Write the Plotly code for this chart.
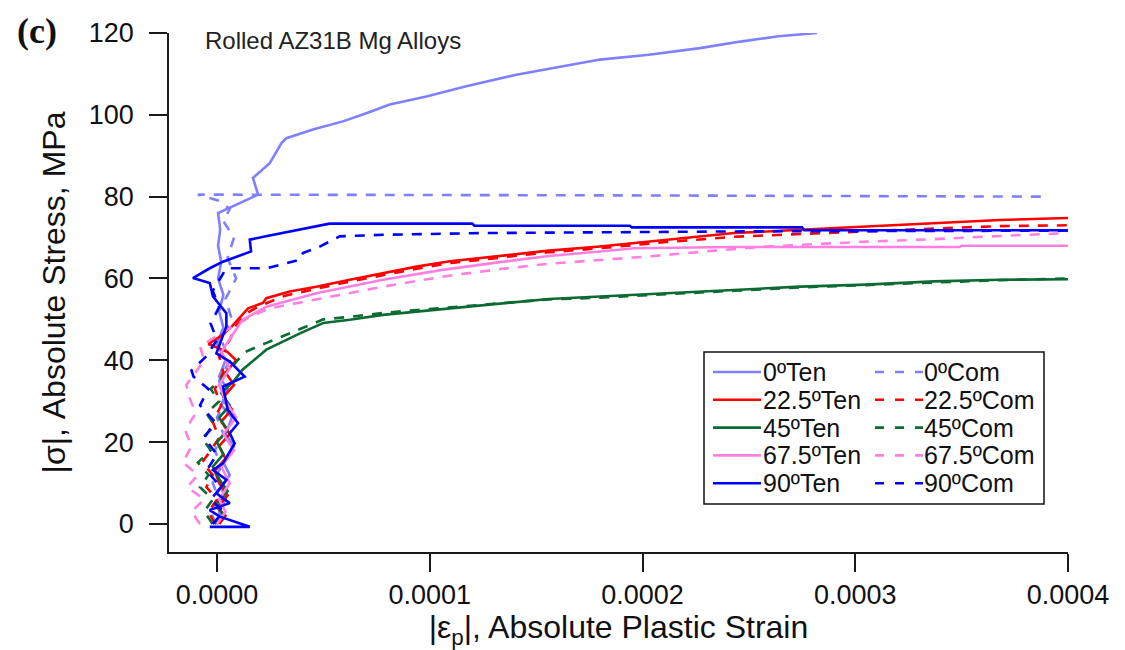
import plotly.graph_objects as go

# ---------------- data (strain, |stress| MPa) ----------------
ten0_x = [0.0, 2e-6, 1e-6, 4e-6, 2e-6, 6e-6, 3e-6, 8e-6, 4e-6, 7e-6, 2e-6, 5e-6, 1e-6, 4e-6, 0.0, 3e-6, 1e-6, 3e-6,
          0.5e-6, 2e-6, 0.5e-6, 1.5e-6, 0.5e-6, 9e-6, 1.93e-5, 1.69e-5, 2.48e-5, 3.03e-5, 3.26e-5, 4.51e-5, 5.92e-5,
          7.02e-5, 8.12e-5, 9.84e-5, 1.172e-4, 1.407e-4, 1.611e-4, 1.80e-4, 2.03e-4, 2.27e-4, 2.46e-4, 2.64e-4, 2.82e-4]
ten0_y = [0, 1, 3, 6, 9, 12, 15, 19, 22, 26, 29, 33, 36, 40, 44, 48, 52, 56, 60, 64, 68, 72, 76, 78, 80.5, 84.6, 88.2,
          93.1, 94.3, 96.4, 98.4, 100.4, 102.5, 104.5, 107.0, 109.8, 111.8, 113.5, 114.7, 116.3, 117.9, 119.2, 120.0]

com0_x = [-0.5e-6, -3e-6, 1e-6, -2e-6, 2e-6, -1e-6, 3e-6, 0.0, 4e-6, 1e-6, 6e-6, 2e-6, 7e-6, 4e-6, 9e-6, 5e-6, 8e-6,
          3e-6, 6e-6, 1e-6, -9e-6, 1e-5, 1e-4, 2e-4, 3e-4, 3.9e-4]
com0_y = [0, 3, 6, 10, 14, 18, 22, 26, 30, 35, 40, 45, 50, 55, 60, 65, 70, 74, 77, 79, 80.5, 80.5, 80.4, 80.3, 80.1, 80.0]

ten225_x = [1e-6, 4e-6, 0.0, 5e-6, 1e-6, -1e-6, 4e-6, 1e-6, 6e-6, 2e-6, 7e-6, 3e-6, 8e-6, 4e-6, 9e-6, 5e-6, -4e-6,
            2e-6, 7e-6, 1.46e-5, 2.16e-5, 2.32e-5, 3.42e-5, 4.67e-5, 6.24e-5, 7.81e-5, 9.38e-5, 1.095e-4, 1.33e-4,
            1.56e-4, 1.80e-4, 2.11e-4, 2.43e-4, 2.74e-4, 3.05e-4, 3.37e-4, 3.68e-4, 4.0e-4]
ten225_y = [0, 2, 4, 7, 10, 13, 16, 19, 22, 25, 28, 31, 34, 37, 40, 42, 44, 46, 48.3, 52.7, 54.0, 55.2, 56.8, 58.0,
            59.7, 61.3, 62.9, 64.2, 65.5, 66.8, 67.8, 69.5, 71.1, 71.9, 72.7, 73.5, 74.3, 74.8]

com225_x = [-1e-6, -4e-6, 0.0, -5e-6, -2e-6, -7e-6, -3e-6, 1e-6, -2e-6, 2e-6, -1e-6, 3e-6, 1e-6, 6e-6, 9e-6, 1.4e-5,
            2.0e-5, 3.2e-5, 4.6e-5, 6.2e-5, 7.8e-5, 9.4e-5, 1.1e-4, 1.33e-4, 1.56e-4, 1.8e-4, 2.11e-4, 2.43e-4,
            2.74e-4, 3.05e-4, 3.37e-4, 3.68e-4, 4.0e-4]
com225_y = [0, 3, 6, 9, 12, 15, 18, 21, 25, 29, 33, 37, 41, 45, 48.5, 51.5, 53.3, 55.8, 57.4, 59.2, 60.8, 62.4, 63.8,
            65.1, 66.4, 67.4, 68.9, 70.2, 70.9, 71.6, 72.2, 72.8, 73.0]

ten45_x = [-1e-6, 3e-6, 0.0, 5e-6, 1e-6, -2e-6, 3e-6, 0.0, 5e-6, 1e-6, 6e-6, 2e-6, 8e-6, 1.2e-5, 2.32e-5, 3.9e-5,
           4.99e-5, 6.24e-5, 7.8e-5, 9.38e-5, 1.095e-4, 1.33e-4, 1.56e-4, 1.80e-4, 2.11e-4, 2.43e-4, 2.74e-4,
           3.05e-4, 3.37e-4, 3.68e-4, 4.0e-4]
ten45_y = [0, 2, 5, 8, 11, 14, 17, 20, 23, 26, 29, 32, 35, 37.7, 42.6, 46.6, 49.1, 49.9, 51.1, 51.9, 52.8, 54.0, 55.0,
           55.6, 56.4, 57.2, 58.0, 58.5, 59.3, 59.7, 59.8]

com45_x = [-2e-6, -6e-6, -2e-6, -8e-6, -4e-6, -9e-6, -3e-6, -7e-6, -1e-6, -5e-6, 1e-6, -3e-6, 3e-6, 8e-6, 1.3e-5,
           2.3e-5, 3.9e-5, 5.0e-5, 6.2e-5, 7.8e-5, 9.4e-5, 1.1e-4, 1.33e-4, 1.56e-4, 1.8e-4, 2.11e-4, 2.43e-4,
           2.74e-4, 3.05e-4, 3.37e-4, 3.68e-4, 4.0e-4]
com45_y = [0, 3, 6, 9, 12, 15, 18, 21, 24, 27, 30, 33, 36, 39, 42, 44.2, 47.6, 50.0, 50.6, 51.6, 52.3, 53.0, 54.0,
           54.9, 55.3, 56.2, 57.0, 57.8, 58.4, 59.1, 59.6, 60.0]

ten675_x = [0.0, 4e-6, 1e-6, 6e-6, 2e-6, 8e-6, 3e-6, 9e-6, 4e-6, 1e-6, 6e-6, 2e-6, 7e-6, 1.2e-5, 2.32e-5, 4.67e-5,
            7.81e-5, 1.06e-4, 1.33e-4, 1.56e-4, 1.80e-4, 1.96e-4, 2.43e-4, 3.49e-4, 3.5e-4, 4.0e-4]
ten675_y = [0, 3, 6, 10, 14, 18, 22, 26, 30, 34, 38, 42, 46, 49.9, 53.1, 56.4, 59.7, 62.1, 64.0, 65.5, 66.6, 67.4,
            67.7, 67.7, 68.0, 68.0]

com675_x = [-8e-6, -1.2e-5, -6e-6, -1.4e-5, -9e-6, -1.6e-5, -1.2e-5, -1.5e-5, -1e-5, -1.3e-5, -1.44e-5, -1e-5, -6e-6,
            -8e-6, 0.0, 1e-5, 1.6e-5, 2.47e-5, 5.4e-5, 7.81e-5, 1.066e-4, 1.33e-4, 1.56e-4, 1.83e-4, 2.03e-4,
            2.34e-4, 2.58e-4, 3.05e-4, 3.37e-4, 3.68e-4, 4.0e-4]
com675_y = [0, 3, 6, 9, 12, 15, 19, 23, 27, 31, 34, 37, 40, 43.4, 46, 49, 50.7, 52.7, 55.6, 58.0, 60.5, 62.3, 63.6,
            64.6, 65.4, 66.8, 67.8, 69.0, 69.6, 70.4, 71.1]

ten90_x = [-3.4e-6, 1.54e-5, 1.3e-6, -3.4e-6, 6e-6, -0.3e-6, 4.4e-6, -1.9e-6, 2.8e-6, 8.3e-6, 6e-6, 9.9e-6, 5e-6,
           2.8e-6, 1.3e-5, 6e-6, -0.3e-6, 4.4e-6, 4.4e-6, -1.9e-6, -3.4e-6, -1.13e-5, -3.4e-6, 2.8e-6, 1.6e-5,
           1.54e-5, 2.3e-5, 4.35e-5, 5.29e-5, 1.2e-4, 1.21e-4, 1.94e-4, 1.95e-4, 2.75e-4, 2.76e-4, 4.0e-4]
ten90_y = [-0.7, -0.7, 1.8, 3.4, 5.1, 7.5, 10.8, 13.2, 14.8, 19.7, 22.2, 24.6, 28.0, 33.6, 36.0, 39.7, 41.7, 48.3,
           51.5, 55.6, 58.9, 60.1, 62.5, 64.1, 66.6, 69.5, 70.3, 72.3, 73.4, 73.4, 72.9, 72.9, 72.5, 72.5, 71.8, 71.8]

com90_x = [-2e-6, 3e-6, -3e-6, 2e-6, -5e-6, 0.0, -6e-6, -1e-6, -8e-6, -4e-6, -1.1e-5, -1.2e-5, -5e-6, 0.0, -3e-6,
           1e-6, -2e-6, 2.8e-6, 4.4e-6, 2.32e-5, 2.95e-5, 3.9e-5, 4.04e-5, 4.83e-5, 5.77e-5, 7.96e-5, 1.25e-4,
           1.8e-4, 2.43e-4, 4.0e-4]
com90_y = [0, 3, 6, 9, 13, 17, 21, 25, 29, 33, 36, 37.5, 41, 45, 49, 53, 57, 60.9, 62.5, 62.5, 63.3, 64.6, 66.2,
           67.8, 70.3, 70.7, 71.1, 71.3, 71.5, 71.7]

ten_names = ["0ºTen", "22.5ºTen", "45ºTen", "67.5ºTen", "90ºTen"]
com_names = ["0ºCom", "22.5ºCom", "45ºCom", "67.5ºCom", "90ºCom"]
colors = ["#8080FF", "#FF0000", "#0C6B32", "#FF80E0", "#0000FF"]

x_ticks = [0.0, 0.0001, 0.0002, 0.0003, 0.0004]
x_ticklabels = ["0.0000", "0.0001", "0.0002", "0.0003", "0.0004"]
y_ticks = [0, 20, 40, 60, 80, 100, 120]

ten_data = [(ten0_x, ten0_y), (ten225_x, ten225_y), (ten45_x, ten45_y), (ten675_x, ten675_y), (ten90_x, ten90_y)]
com_data = [(com0_x, com0_y), (com225_x, com225_y), (com45_x, com45_y), (com675_x, com675_y), (com90_x, com90_y)]

DASH = "10px,9px"
FONT = "Liberation Sans, Arial, sans-serif"

fig = go.Figure()
for i in range(5):
    fig.add_trace(go.Scatter(x=ten_data[i][0], y=ten_data[i][1], mode="lines", name=ten_names[i],
                             line=dict(color=colors[i], width=2.6), showlegend=False))
    fig.add_trace(go.Scatter(x=com_data[i][0], y=com_data[i][1], mode="lines", name=com_names[i],
                             line=dict(color=colors[i], width=2.6, dash=DASH), showlegend=False))

# plot-area pixel geometry
L, R, T, B = 169, 1068, 33, 552
W, H = 1125, 650


def px(x):
    return (x - L) / (R - L)


def py(y):
    return (B - y) / (B - T)


axis_common = dict(showline=True, linecolor="#1a1a1a", linewidth=1.5, ticks="outside", ticklen=18,
                   tickwidth=1.5, tickcolor="#1a1a1a", showgrid=False, zeroline=False,
                   tickfont=dict(family=FONT, size=27, color="#111"))

fig.update_layout(
    width=W, height=H,
    margin=dict(l=L, r=W - R, t=T, b=H - B),
    plot_bgcolor="white", paper_bgcolor="white",
    xaxis=dict(range=[-2.256e-5, 4.0e-4], tickvals=x_ticks, ticktext=x_ticklabels,
               title=dict(text="|ε<sub>p</sub>|, Absolute Plastic Strain",
                          font=dict(family=FONT, size=32, color="#111"), standoff=0),
               **axis_common),
    yaxis=dict(range=[-6.85, 120], tickvals=y_ticks, ticklabelstandoff=10,
               title=dict(text="|σ|, Absolute Stress, MPa",
                          font=dict(family=FONT, size=32, color="#111"), standoff=14),
               **axis_common),
    showlegend=False,
)

# title-like annotations
fig.add_annotation(x=px(203), y=py(40), xref="paper", yref="paper", xanchor="left", yanchor="middle",
                   text="Rolled AZ31B Mg Alloys", showarrow=False,
                   font=dict(family=FONT, size=24, color="#222"))
fig.add_annotation(x=px(37), y=py(31), xref="paper", yref="paper", xanchor="center", yanchor="middle",
                   text="(c)", showarrow=False,
                   font=dict(family="Liberation Serif, Times New Roman, serif", size=36, color="#111",
                             weight="bold"))

# legend box
fig.add_shape(type="rect", xref="paper", yref="paper", x0=px(704), x1=px(1044), y0=py(504), y1=py(352),
              line=dict(color="#111", width=1.5), fillcolor="white", layer="above")
for i in range(5):
    ry = 372 + i * 27.8
    fig.add_shape(type="line", xref="paper", yref="paper", x0=px(713), x1=px(761), y0=py(ry), y1=py(ry),
                  line=dict(color=colors[i], width=2.6))
    fig.add_shape(type="line", xref="paper", yref="paper", x0=px(875), x1=px(923), y0=py(ry), y1=py(ry),
                  line=dict(color=colors[i], width=2.6, dash="9px,11px"))
    fig.add_annotation(x=px(761), y=py(ry), xref="paper", yref="paper", xanchor="left", yanchor="middle",
                       text=ten_names[i], showarrow=False, font=dict(family=FONT, size=25, color="#111"))
    fig.add_annotation(x=px(922), y=py(ry), xref="paper", yref="paper", xanchor="left", yanchor="middle",
                       text=com_names[i], showarrow=False, font=dict(family=FONT, size=25, color="#111"))

fig.write_html("out.html")
